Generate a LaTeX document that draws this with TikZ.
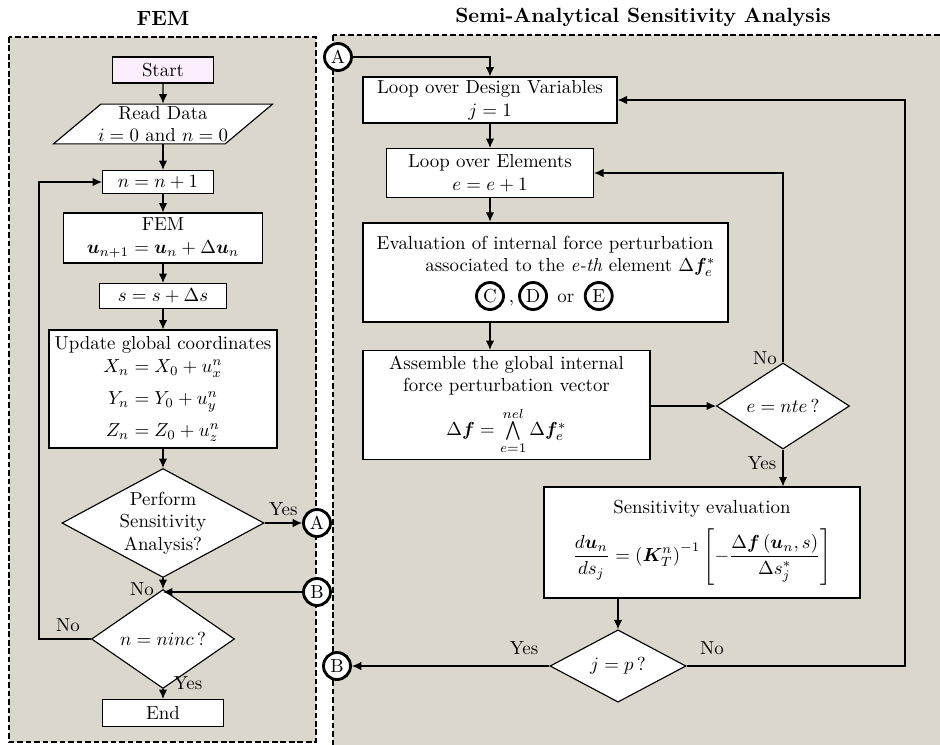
\documentclass[tikz,border=0pt]{standalone}
\usepackage{amsmath,bm}
\usetikzlibrary{shapes}
\usetikzlibrary{calc}
\usetikzlibrary{positioning}
\usetikzlibrary{arrows.meta}

\newcommand{\px}{0.53pt}
\definecolor{panelgray}{RGB}{219,215,205}
\definecolor{startpink}{RGB}{252,238,252}

\tikzset{
  box/.style = {draw, fill=white, align=center, inner sep=1.5pt},
  decision/.style = {diamond, draw, fill=white, align=center, inner sep=0pt},
  circ/.style = {circle, draw, line width=1.5pt, fill=white, minimum size=27*\px, inner sep=0pt},
  panel/.style = {fill=panelgray, line width=1.5pt, dash pattern=on 3pt off 1.5pt},
  title/.style = {font=\fontsize{10.9}{13}\selectfont\bfseries},
}

\begin{document}
\begin{tikzpicture}[x=\px, y=-\px, line width=0.6pt, >={Latex[length=5pt,width=4.5pt]}]

    \useasboundingbox (0,0) rectangle (940,744);

    % panels
    \draw[panel] (9,37) rectangle (316,742);
    \draw[panel] (333,35) rectangle (960,760);

    \node[title] (femtitle) at (163,18) {FEM};
    \node[title] (satitle) at (643,17) {Semi-Analytical Sensitivity Analysis};

    % FEM column
    \node[box, fill=startpink, minimum width=101*\px, minimum height=26*\px] (start) at (163,70) {Start};
    \node[trapezium, trapezium left angle=40, trapezium right angle=140, trapezium stretches body,
          draw, fill=white, align=center, inner xsep=-15pt, inner ysep=1pt,
          minimum width=219*\px, minimum height=39*\px]
          (read) at (163,124) {Read Data\\ $i=0$ and $n=0$};
    \node[box, minimum width=111*\px, minimum height=23*\px] (incr) at (158,182) {$n=n+1$};
    \node[box, minimum width=199*\px, minimum height=50*\px] (fem) at (163,238)
          {FEM\\ $\bm{u}_{n+1}=\bm{u}_n+\Delta\bm{u}_n$};
    \node[box, minimum width=127*\px, minimum height=25*\px] (sinc) at (163,296) {$s=s+\Delta s$};
    \node[box, minimum width=228*\px, minimum height=118*\px] (upd) at (163,389)
          {Update global coordinates\\ $X_n=X_0+u_x^n$\\[5pt] $Y_n=Y_0+u_y^n$\\[5pt] $Z_n=Z_0+u_z^n$};
    \node[decision, minimum width=202*\px, minimum height=109*\px] (perf) at (163,523) {};
    \node[align=center] (perftxt) at (163,523) {Perform\\ Sensitivity\\ Analysis?};
    \node[decision, minimum width=143*\px, minimum height=65*\px] (ninc) at (163,639) {$n=ninc\,?$};
    \node[box, minimum width=121*\px, minimum height=27*\px] (end) at (163,713) {End};

    \node[circ] (Al) at (317,523) {A};
    \node[circ] (Bl) at (317,592) {B};
    \coordinate (join) at (163,592);
    \coordinate (lp) at (39,0);

    \draw[->] (start) -- (read);
    \draw[->] (read.south) -- (read.south |- incr.north);
    \draw[->] (fem.north |- incr.south) -- (fem.north);
    \draw[->] (fem) -- (sinc);
    \draw[->] (sinc) -- (upd);
    \draw[->] (upd) -- (perf);
    \draw[->] (perf) -- (ninc);
    \draw[->] (ninc) -- (end);
    \draw[->] (perf.east) -- (Al.west) node[midway, above] {Yes};
    \draw[->] (Bl.west) -- (join);
    \draw[->] (ninc.west) -- (ninc.west -| lp) |- (incr.west);

    \node (noA) at (142,589) {No};
    \node (noB) at (68,625) {No};
    \node (yesA) at (188,683) {Yes};

    % sensitivity column
    \node[circ] (Ar) at (338,57) {A};
    \node[box, minimum width=254*\px, minimum height=46*\px] (loopj) at (490,100)
          {Loop over Design Variables\\ $j=1$};
    \node[box, minimum width=207*\px, minimum height=49*\px] (loope) at (490,173)
          {Loop over Elements\\ $e=e+1$};
    \node[box, line width=1.4pt, minimum width=365*\px, minimum height=99*\px] (eval) at (545.5,272.5) {};
    \node[align=center] (evaltxt) at (545,256)
          {Evaluation of internal force perturbation\\
           \hspace*{27pt}associated to the \textit{e-th} element $\Delta\bm{f}_e^{*}$};
    \node[circ] (cC) at (490,296) {C};
    \node[circ, right=7pt of cC] (cD) {D};
    \node[circ, right=19pt of cD] (cE) {E};
    \node[anchor=base, inner sep=0pt] (comma) at ($(cC.base)!0.5!(cD.base)$) {,};
    \node[anchor=base, inner sep=0pt] (orword) at ($(cD.base)!0.5!(cE.base)$) {or};

    \node[box, minimum width=287*\px, minimum height=109*\px] (assem) at (506.5,405)
          {Assemble the global internal\\ force perturbation vector\\[5pt]
           $\Delta\bm{f}=\bigwedge\limits_{e=1}^{nel}\Delta\bm{f}_e^{*}$};
    \node[decision, minimum width=133*\px, minimum height=65*\px] (nte) at (783,406) {$e=nte\,?$};
    \node[box, minimum width=316*\px, minimum height=111*\px] (sens) at (702,542.5)
          {Sensitivity evaluation\\[5pt]
           $\displaystyle\frac{d\bm{u}_n}{ds_j}=\left(\bm{K}_T^n\right)^{-1}
            \left[-\frac{\Delta\bm{f}\left(\bm{u}_n,s\right)}{\Delta s_j^{*}}\right]$};
    \node[decision, minimum width=136*\px, minimum height=64*\px] (jp) at (618,666) {$j=p\,?$};
    \node[circ] (Br) at (337,666) {B};
    \coordinate (rt) at (905,0);

    \draw[->] (Ar.east) -| (loopj.north);
    \draw[->] (loopj) -- (loope);
    \draw[->] (loope.south) -- (loope.south |- eval.north);
    \draw[->] (loope.south |- eval.south) -- (loope.south |- assem.north);
    \draw[->] (assem.east |- nte.west) -- (nte.west);
    \draw[->] (nte.north) |- (loope.east);
    \draw[->] (nte.south) -- (nte.south |- sens.north);
    \draw[->] (jp.north |- sens.south) -- (jp.north);
    \draw[->] (jp.west) -- (Br.east);
    \draw[->] (jp.east) -- (jp.east -| rt) |- (loopj.east);

    \node (nonte) at (765,358) {No};
    \node (yesnte) at (762,463) {Yes};
    \node (yesjp) at (524,648) {Yes};
    \node (nojp) at (712,648) {No};

\end{tikzpicture}
\end{document}
